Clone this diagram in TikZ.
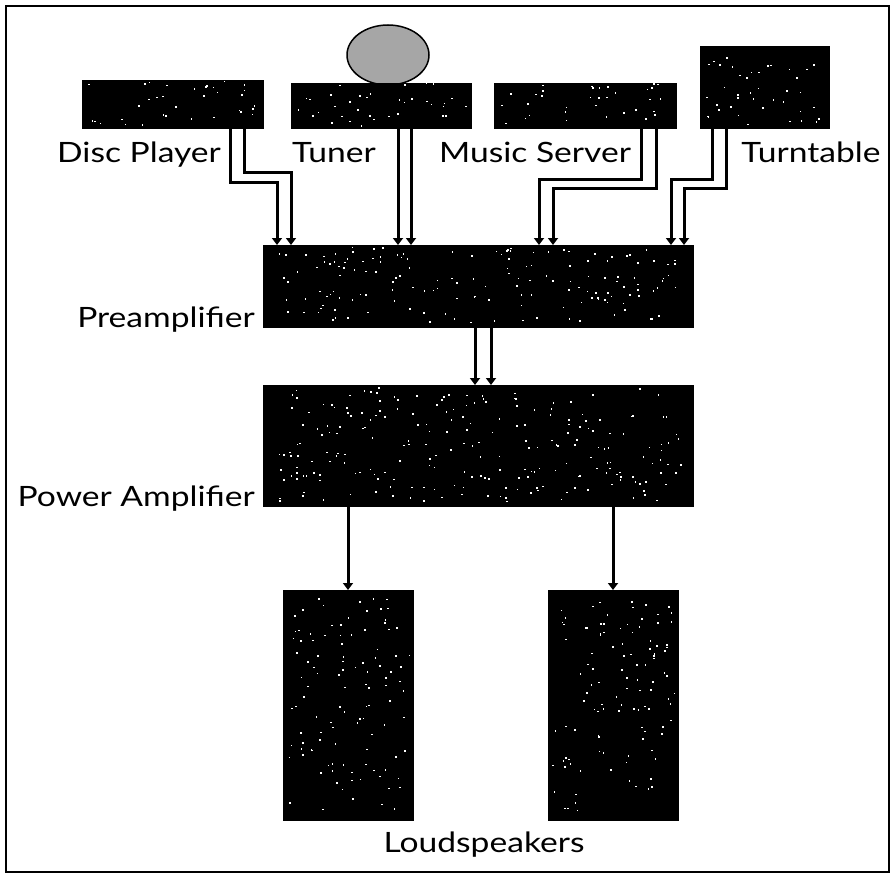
\documentclass[tikz,border=0pt]{standalone}
\usepackage{fontspec}
\setmainfont{Lato}[FakeStretch=1.2]
\usepackage{tikz}
\usetikzlibrary{arrows.meta,positioning,shapes.geometric,calc}
\newcommand{\labfont}{\fontsize{28}{33}\selectfont}
% scatter white grain over a box
\newcommand{\speckle}[2]{%
  \foreach \k in {1,...,#2}
    \fill[white] let \p1=(#1.south west), \p2=(#1.north east) in
      ({\x1+(0.03+0.94*rnd)*(\x2-\x1)},{\y1+(0.03+0.94*rnd)*(\y2-\y1)})
      rectangle ++(1.6pt,1.6pt);
}

\tikzset{
  unit/.style={fill=black, draw=black, inner sep=0pt, outer sep=0pt},
  sig/.style={line width=3pt, -{Triangle[length=7pt,width=10pt]}},
  lab/.style={font=\labfont, inner sep=0pt},
}

\begin{document}
\begin{tikzpicture}[x=1pt, y=-1pt]
  \pgfmathsetseed{4711}
  \useasboundingbox (0,0) rectangle (894,875);
  \draw[line width=2.5pt] (6,6) rectangle (889,872);

  % sources
  \node[draw=black, line width=1.5pt, fill=black!35, ellipse, minimum width=82pt,
        minimum height=60pt, inner sep=0pt] (dish) at (388,55) {};
  \node[unit, minimum width=181pt, minimum height=48pt] (disc)  at (172.5,104) {};
  \node[unit, minimum width=180pt, minimum height=45pt] (tuner) at (381,105.5) {};
  \node[unit, minimum width=182pt, minimum height=45pt] (server) at (585,105.5) {};
  \node[unit, minimum width=129pt, minimum height=82pt] (turn) at (764.5,87) {};

  \node[lab, anchor=base] (discL)   at (139,162) {Disc Player};
  \node[lab, anchor=base] (tunerL)  at (334,162) {Tuner};
  \node[lab, anchor=base] (serverL) at (535,162) {Music Server};
  \node[lab, anchor=base] (turnL)   at (811,162) {Turntable};

  % amplifiers
  \node[unit, minimum width=430pt, minimum height=82pt]  (pre) at (478,286) {};
  \node[unit, minimum width=430pt, minimum height=121pt] (pwr) at (478,445.5) {};
  \node[lab, anchor=base east, xshift=-8pt] (preL) at (pre.south west) {Preamplifier};
  \node[lab, anchor=base east, xshift=-8pt] (pwrL) at (pwr.south west) {Power Amplifier};

  % speakers
  \node[unit, minimum width=130pt, minimum height=230pt] (spkL) at (348,705) {};
  \node[unit, minimum width=130pt, minimum height=230pt] (spkR) at (613,705) {};
  \node[lab, anchor=base] (spkLab) at (484,852) {Loudspeakers};

  % grain
  \speckle{disc}{35}
  \speckle{tuner}{35}
  \speckle{server}{35}
  \speckle{turn}{40}
  \speckle{pre}{160}
  \speckle{pwr}{230}
  \speckle{spkL}{110}
  \speckle{spkR}{110}

  % connections
  \draw[sig] ([xshift=-33pt]disc.south east) -- ++(0,54) -| ([xshift=14pt]pre.north west);
  \draw[sig] ([xshift=-19pt]disc.south east) -- ++(0,44) -| ([xshift=28pt]pre.north west);
  \draw[sig] ([xshift=17pt]tuner.south) -- ([xshift=17pt]tuner.south |- pre.north);
  \draw[sig] ([xshift=30pt]tuner.south) -- ([xshift=30pt]tuner.south |- pre.north);
  \draw[sig] ([xshift=-35pt]server.south east) -- ++(0,51) -| ([xshift=276pt]pre.north west);
  \draw[sig] ([xshift=-20pt]server.south east) -- ++(0,60) -| ([xshift=290pt]pre.north west);
  \draw[sig] ([xshift=12pt]turn.south west) -- ++(0,51) -| ([xshift=408pt]pre.north west);
  \draw[sig] ([xshift=26pt]turn.south west) -- ++(0,60) -| ([xshift=421pt]pre.north west);

  \draw[sig] ([xshift=-3pt]pre.south) -- ([xshift=-3pt]pwr.north);
  \draw[sig] ([xshift=13pt]pre.south) -- ([xshift=13pt]pwr.north);

  \draw[sig] (pwr.south -| spkL.north) -- (spkL.north);
  \draw[sig] (pwr.south -| spkR.north) -- (spkR.north);
\end{tikzpicture}
\end{document}
